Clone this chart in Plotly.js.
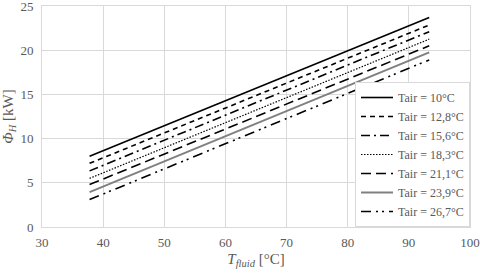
<!DOCTYPE html>
<html>
<head>
<meta charset="utf-8">
<script src="https://cdn.plot.ly/plotly-3.0.1.min.js"></script>
<style>html,body{margin:0;padding:0;background:#fff;}#chart{width:480px;height:274px;}</style>
</head>
<body>
<div id="chart"></div>
<script>
const tFluid = [37.78, 93.33];
const seriesNames = ["Tair = 10°C", "Tair = 12,8°C", "Tair = 15,6°C", "Tair = 18,3°C", "Tair = 21,1°C", "Tair = 23,9°C", "Tair = 26,7°C"];
const phi10 = [8.0, 23.7];
const phi128 = [7.2, 22.85];
const phi156 = [6.35, 22.1];
const phi183 = [5.5, 21.25];
const phi211 = [4.8, 20.5];
const phi239 = [3.95, 19.75];
const phi267 = [3.1, 18.9];
const xTicks = [30, 40, 50, 60, 70, 80, 90, 100];
const yTicks = [0, 5, 10, 15, 20, 25];

const allY = [phi10, phi128, phi156, phi183, phi211, phi239, phi267];
const styles = [
  {color: "#000000", width: 1.6, dash: "solid"},
  {color: "#000000", width: 1.6, dash: "5px,4px"},
  {color: "#000000", width: 1.6, dash: "9px,4px,2px,4px"},
  {color: "#000000", width: 1.2, dash: "1.5px,1.5px"},
  {color: "#000000", width: 1.6, dash: "10px,5px"},
  {color: "#808080", width: 2, dash: "solid"},
  {color: "#000000", width: 1.6, dash: "10px,5px,2px,4px,2px,5px"}
];

const traces = allY.map((ys, i) => ({
  x: tFluid, y: ys, type: "scatter", mode: "lines", name: seriesNames[i],
  line: styles[i]
}));

const serif = '"Liberation Serif", "Times New Roman", Times, serif';
const layout = {
  width: 480, height: 274,
  margin: {l: 42, r: 10, t: 6, b: 47},
  paper_bgcolor: "#fff", plot_bgcolor: "#fff",
  font: {family: serif, color: "#595959", size: 13},
  showlegend: true,
  legend: {
    x: 1, xanchor: "right", y: 0.0, yanchor: "bottom",
    bgcolor: "#ffffff", bordercolor: "#d9d9d9", borderwidth: 1,
    font: {family: serif, size: 12, color: "#595959"},
    tracegroupgap: 0, itemwidth: 32
  },
  xaxis: {
    range: [30, 100], tickvals: xTicks, ticktext: xTicks.map(String),
    showgrid: true, gridcolor: "#d9d9d9", gridwidth: 1,
    zeroline: false, showline: true, mirror: true, linecolor: "#d9d9d9", linewidth: 1,
    ticks: "", ticklen: 0, ticklabeloverflow: "allow", ticklabelstandoff: 3,
    tickfont: {family: serif, size: 13, color: "#595959"},
    title: {text: "<i>T</i><sub><i>fluid</i></sub> [°C]", font: {family: serif, size: 15, color: "#595959"}, standoff: 4}
  },
  yaxis: {
    range: [0, 25], tickvals: yTicks, ticktext: yTicks.map(String),
    showgrid: true, gridcolor: "#d9d9d9", gridwidth: 1,
    zeroline: false, showline: true, mirror: true, linecolor: "#d9d9d9", linewidth: 1,
    ticks: "", ticklen: 0, ticklabeloverflow: "allow", ticklabelstandoff: 5,
    tickfont: {family: serif, size: 13, color: "#595959"},
    title: {text: "<i>Φ</i><sub><i>H</i></sub> [kW]", font: {family: serif, size: 15, color: "#595959"}, standoff: 3}
  }
};

Plotly.newPlot("chart", traces, layout, {displayModeBar: false, staticPlot: true});
</script>
</body>
</html>
